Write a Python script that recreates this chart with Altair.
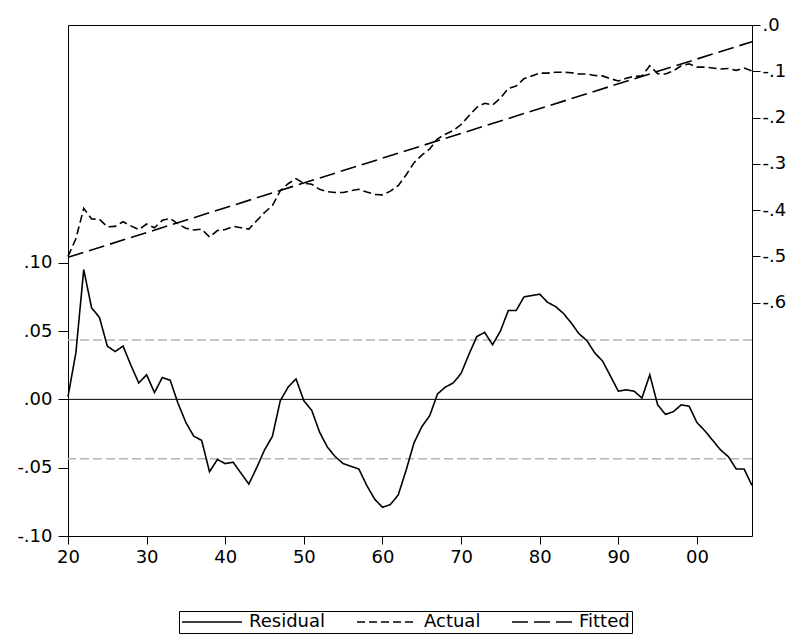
import altair as alt
import pandas as pd

years = list(range(1920, 2008))

residual = [
    0.002, 0.034, 0.095, 0.067, 0.060, 0.039, 0.035, 0.039, 0.025, 0.012,
    0.018, 0.005, 0.016, 0.014, -0.003, -0.017, -0.027, -0.030, -0.053, -0.044,
    -0.047, -0.046, -0.054, -0.062, -0.050, -0.037, -0.027, -0.001, 0.009, 0.015,
    -0.001, -0.008, -0.024, -0.035, -0.042, -0.047, -0.049, -0.051, -0.063, -0.073,
    -0.079, -0.077, -0.070, -0.052, -0.032, -0.020, -0.012, 0.004, 0.009, 0.012,
    0.019, 0.033, 0.046, 0.049, 0.040, 0.050, 0.065, 0.065, 0.075, 0.076,
    0.077, 0.071, 0.068, 0.063, 0.056, 0.048, 0.043, 0.034, 0.028, 0.017,
    0.006, 0.007, 0.006, 0.001, 0.018, -0.004, -0.011, -0.009, -0.004, -0.005,
    -0.017, -0.023, -0.030, -0.037, -0.042, -0.051, -0.051, -0.063,
]

actual = [
    -0.500, -0.462, -0.396, -0.419, -0.420, -0.436, -0.435, -0.425, -0.434, -0.442,
    -0.430, -0.438, -0.422, -0.418, -0.430, -0.439, -0.443, -0.441, -0.458, -0.444,
    -0.442, -0.435, -0.438, -0.441, -0.423, -0.405, -0.390, -0.358, -0.343, -0.332,
    -0.342, -0.344, -0.355, -0.360, -0.362, -0.362, -0.358, -0.355, -0.361, -0.366,
    -0.367, -0.359, -0.347, -0.324, -0.298, -0.281, -0.268, -0.246, -0.236, -0.228,
    -0.215, -0.196, -0.178, -0.169, -0.173, -0.158, -0.137, -0.132, -0.116, -0.110,
    -0.104, -0.104, -0.102, -0.102, -0.103, -0.106, -0.106, -0.109, -0.110, -0.116,
    -0.121, -0.115, -0.111, -0.110, -0.088, -0.105, -0.106, -0.099, -0.088, -0.084,
    -0.091, -0.091, -0.093, -0.095, -0.094, -0.098, -0.093, -0.099,
]

fitted_years = [1920, 2007]
fitted = [-0.502, -0.036]

se_band = [0.0435, -0.0435]
zero_line = [0.0]

series_names = ["Residual", "Actual", "Fitted"]
left_ticks = [-0.10, -0.05, 0.0, 0.05, 0.10]
right_ticks = [0.0, -0.1, -0.2, -0.3, -0.4, -0.5, -0.6]
x_ticks = [1920, 1930, 1940, 1950, 1960, 1970, 1980, 1990, 2000]

df_res = pd.DataFrame({"year": years, "value": residual, "series": "Residual"})
df_right = pd.concat([
    pd.DataFrame({"year": years, "value": actual, "series": "Actual"}),
    pd.DataFrame({"year": fitted_years, "value": fitted, "series": "Fitted"}),
])
df_band = pd.DataFrame({"value": se_band})
df_zero = pd.DataFrame({"value": zero_line})

FONT = "DejaVu Sans"
FS = 18

x_enc = alt.X(
    "year:Q",
    scale=alt.Scale(domain=[1920, 2007], nice=False, zero=False),
    axis=alt.Axis(values=x_ticks, labelExpr="substring(toString(datum.value), 2, 4)",
                  tickSize=8, labelPadding=4, domain=False, grid=False, title=None,
                  labelFlush=False, labelOverlap=False),
)

left_scale = alt.Scale(domain=[-0.1, 0.274], nice=False, zero=False)
left_axis = alt.Axis(orient="left", values=left_ticks,
                     labelExpr="(datum.value < 0 ? '-' : '') + replace(format(abs(datum.value), '.2f'), '0.', '.')",
                     tickSize=10, labelPadding=6, domain=False, grid=False, title=None,
                     labelFlush=False, labelOverlap=False)
right_scale = alt.Scale(domain=[-1.104, 0.0], nice=False, zero=False)
right_axis = alt.Axis(orient="right", values=right_ticks,
                      labelExpr="(datum.value < 0 ? '-' : '') + replace(format(abs(datum.value), '.1f'), '0.', '.')",
                      tickSize=8, labelPadding=2, domain=False, grid=False, title=None,
                      labelFlush=False, labelOverlap=False)

dash_scale = alt.Scale(domain=series_names, range=[[1, 0], [8, 4], [16, 6]])
legend = alt.Legend(
    orient="none", legendX=111, legendY=586, direction="horizontal", columns=3,
    title=None, symbolType="stroke", symbolSize=3600, symbolStrokeWidth=1.5,
    symbolStrokeColor="black", labelFont=FONT, labelFontSize=FS, labelColor="black",
    labelOffset=6, columnPadding=30, padding=2, strokeColor="black",
    fillColor="white", labelLimit=300, clipHeight=18,
)

yL = alt.Y("value:Q", scale=left_scale, axis=left_axis)
yR = alt.Y("value:Q", scale=right_scale, axis=right_axis)

bands = alt.Chart(df_band).mark_rule(color="#b4b4b4", strokeWidth=1.5, strokeDash=[9, 4]).encode(y=yL)
zero = alt.Chart(df_zero).mark_rule(color="black", strokeWidth=1).encode(y=yL)
res_line = alt.Chart(df_res).mark_line(color="black", strokeWidth=1.6).encode(
    x=x_enc, y=yL, strokeDash=alt.StrokeDash("series:N", scale=dash_scale, legend=legend)
)
left = alt.layer(bands, zero, res_line)

right = alt.Chart(df_right).mark_line(color="black", strokeWidth=1.6).encode(
    x=x_enc, y=yR, strokeDash=alt.StrokeDash("series:N", scale=dash_scale, legend=legend)
)

chart = alt.layer(left, right).resolve_scale(y="independent").properties(
    width=684, height=511,
    autosize=alt.AutoSizeParams(type="none"),
    padding={"left": 60, "top": 17, "right": 38, "bottom": 99},
    background="white",
).configure_view(stroke="black", strokeWidth=1).configure_axis(
    labelFont=FONT, labelFontSize=FS, labelColor="black", tickColor="black", tickWidth=1
)

chart.save("out.html", embed_options={"renderer": "svg", "actions": False})
